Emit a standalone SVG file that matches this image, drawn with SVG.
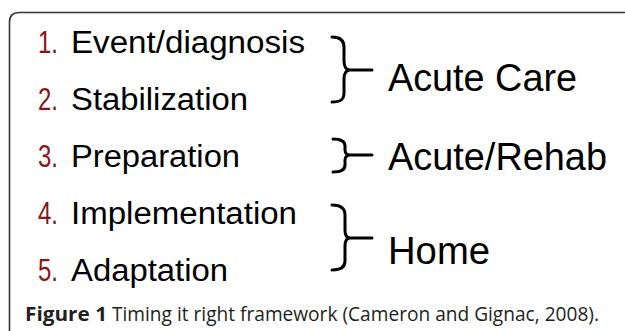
<svg xmlns="http://www.w3.org/2000/svg" width="625" height="331" viewBox="0 0 625 331">
<style>
.num{font-family:"Liberation Sans",Arial,sans-serif;font-size:31px;fill:#8a1515}
.lbl{font-family:"Liberation Sans",Arial,sans-serif;font-size:31px;fill:#000}
.grp{font-family:"Liberation Sans",Arial,sans-serif;font-size:38px;fill:#000}
.cap{font-family:"Open Sans","Liberation Sans",sans-serif;font-size:20px;fill:#231f20}
.brace{fill:none;stroke:#000;stroke-width:3;stroke-linecap:round;stroke-linejoin:round}
</style>
<rect width="625" height="331" fill="#fff"/>
<path d="M9.5,331 V22 Q9.5,12.5 19.5,12.5 H625" fill="none" stroke="#333" stroke-width="1.6"/>
<g id="step1"><text class="num" x="38" y="53" textLength="20" lengthAdjust="spacingAndGlyphs">1.</text><text class="lbl" x="71" y="53" textLength="234" lengthAdjust="spacingAndGlyphs">Event/diagnosis</text></g>
<g id="step2"><text class="num" x="38" y="110" textLength="20" lengthAdjust="spacingAndGlyphs">2.</text><text class="lbl" x="71" y="110" textLength="177" lengthAdjust="spacingAndGlyphs">Stabilization</text></g>
<g id="step3"><text class="num" x="38" y="167" textLength="20" lengthAdjust="spacingAndGlyphs">3.</text><text class="lbl" x="71" y="167" textLength="169" lengthAdjust="spacingAndGlyphs">Preparation</text></g>
<g id="step4"><text class="num" x="38" y="224" textLength="20" lengthAdjust="spacingAndGlyphs">4.</text><text class="lbl" x="71" y="224" textLength="226" lengthAdjust="spacingAndGlyphs">Implementation</text></g>
<g id="step5"><text class="num" x="38" y="281" textLength="20" lengthAdjust="spacingAndGlyphs">5.</text><text class="lbl" x="71" y="281" textLength="157" lengthAdjust="spacingAndGlyphs">Adaptation</text></g>
<g id="acute-care"><text class="grp" x="388" y="91" textLength="189" lengthAdjust="spacingAndGlyphs">Acute Care</text></g>
<g id="acute-rehab"><text class="grp" x="388" y="170" textLength="219" lengthAdjust="spacingAndGlyphs">Acute/Rehab</text></g>
<g id="home"><text class="grp" x="388" y="264" textLength="102" lengthAdjust="spacingAndGlyphs">Home</text></g>
<g id="connectors">
<path class="brace" d="M332,37 C340,37 344,40 344,47 V61 C344,66 346,70 350,70 H372 M350,70 C346,70 344,74 344,79 V93 C344,100 340,102 332,102"/>
<path class="brace" d="M333,139 C341,139 345,141 345,146 V150 C345,153 347,155 350,155 H372 M350,155 C347,155 345,157 345,160 V165 C345,170 341,172 333,172"/>
<path class="brace" d="M332,205 C340,205 345,208 345,215 V230 C345,235 347,238 350,238 H372 M350,238 C347,238 345,241 345,246 V261 C345,268 340,270 332,270"/>
</g>
<g id="caption"><text class="cap" x="25" y="321" font-weight="bold" textLength="82" lengthAdjust="spacingAndGlyphs">Figure 1</text><text class="cap" x="112" y="321" textLength="487" lengthAdjust="spacingAndGlyphs">Timing it right framework (Cameron and Gignac, 2008).</text></g>
</svg>
